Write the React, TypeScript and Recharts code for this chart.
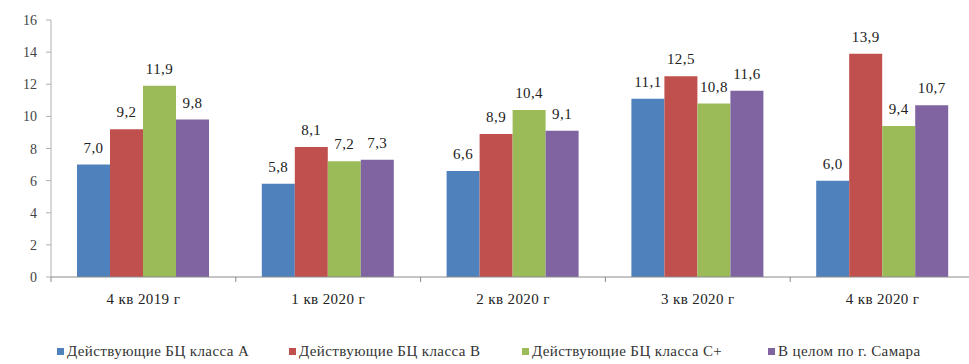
import React from "react";
import { BarChart, Bar, XAxis, YAxis, LabelList } from "recharts";

// Quarters on the category axis
const quarters = ["4 кв 2019 г", "1 кв 2020 г", "2 кв 2020 г", "3 кв 2020 г", "4 кв 2020 г"];

// Vacancy rate, %, per office class
const classA = [7.0, 5.8, 6.6, 11.1, 6.0];
const classB = [9.2, 8.1, 8.9, 12.5, 13.9];
const classCPlus = [11.9, 7.2, 10.4, 10.8, 9.4];
const samaraTotal = [9.8, 7.3, 9.1, 11.6, 10.7];

const yTicks = [0, 2, 4, 6, 8, 10, 12, 14, 16];

const seriesNames = [
  "Действующие БЦ класса А",
  "Действующие БЦ класса В",
  "Действующие БЦ класса С+",
  "В целом по г. Самара",
];
const seriesKeys = ["a", "b", "c", "total"];
const seriesColors = ["#4F81BD", "#C0504D", "#9BBB59", "#8064A2"];

const data = quarters.map((q, i) => ({
  quarter: q,
  a: classA[i],
  b: classB[i],
  c: classCPlus[i],
  total: samaraTotal[i],
}));

const FONT = "Liberation Serif";

const fmt = (v: any) => Number(v).toFixed(1).replace(".", ",");

// Category label centred under the group, with a tick mark on the left boundary
const QuarterTick = (props: any) => {
  const { x, y, payload } = props;
  const half = payload && payload.offset ? payload.offset : 92.5;
  return (
    <g>
      <line x1={x - half} x2={x - half} y1={y} y2={y + 5} stroke="#8a8a8a" />
      <text
        x={x}
        y={y + 27}
        textAnchor="middle"
        fontFamily={FONT}
        fontSize={15}
        letterSpacing={0.4}
        fill="#222"
      >
        {payload.value}
      </text>
    </g>
  );
};

// Y tick label, right-aligned left of the axis
const ValueTick = (props: any) => {
  const { x, y, payload } = props;
  return (
    <text
      x={x}
      y={y + 5}
      textAnchor="end"
      fontFamily={FONT}
      fontSize={14}
      fill="#444"
    >
      {payload.value}
    </text>
  );
};

// Value above each bar
const BarValue = (props: any) => {
  const { x, y, width, value } = props;
  return (
    <text
      x={x + width / 2}
      y={y - 12}
      textAnchor="middle"
      fontFamily={FONT}
      fontSize={15}
      letterSpacing={0.4}
      fill="#222"
    >
      {fmt(value)}
    </text>
  );
};

const legendLeft = [57, 289, 522, 768];

export default function App() {
  return (
    <div
      style={{
        position: "absolute",
        left: 0,
        top: 0,
        width: 969,
        height: 364,
        overflow: "hidden",
        background: "#fff",
      }}
    >
      <BarChart
        width={985}
        height={364}
        data={data}
        margin={{ top: 20, right: 10, bottom: 57, left: 0 }}
        barCategoryGap={26}
        barGap={0}
      >
        <YAxis
          width={51}
          domain={[0, 16]}
          ticks={yTicks}
          interval={0}
          allowDecimals={false}
          stroke="#b0b0b0"
          tickSize={5}
          tickMargin={9}
          tick={<ValueTick />}
        />
        <XAxis
          dataKey="quarter"
          stroke="#8a8a8a"
          tickLine={false}
          tickSize={0}
          tickMargin={0}
          interval={0}
          tick={<QuarterTick />}
        />
        {seriesKeys.map((k, i) => (
          <Bar key={k} dataKey={k} name={seriesNames[i]} fill={seriesColors[i]} isAnimationActive={false}>
            <LabelList dataKey={k} content={<BarValue />} />
          </Bar>
        ))}
      </BarChart>
      {seriesNames.map((n, i) => (
        <div
          key={n}
          style={{
            position: "absolute",
            left: legendLeft[i],
            top: 343,
            display: "flex",
            alignItems: "center",
            fontFamily: FONT,
            fontSize: 15,
            letterSpacing: 0.4,
            color: "#333",
            whiteSpace: "nowrap",
          }}
        >
          <span
            style={{
              display: "inline-block",
              width: 7,
              height: 7,
              background: seriesColors[i],
              marginRight: 3,
            }}
          />
          {n}
        </div>
      ))}
    </div>
  );
}
